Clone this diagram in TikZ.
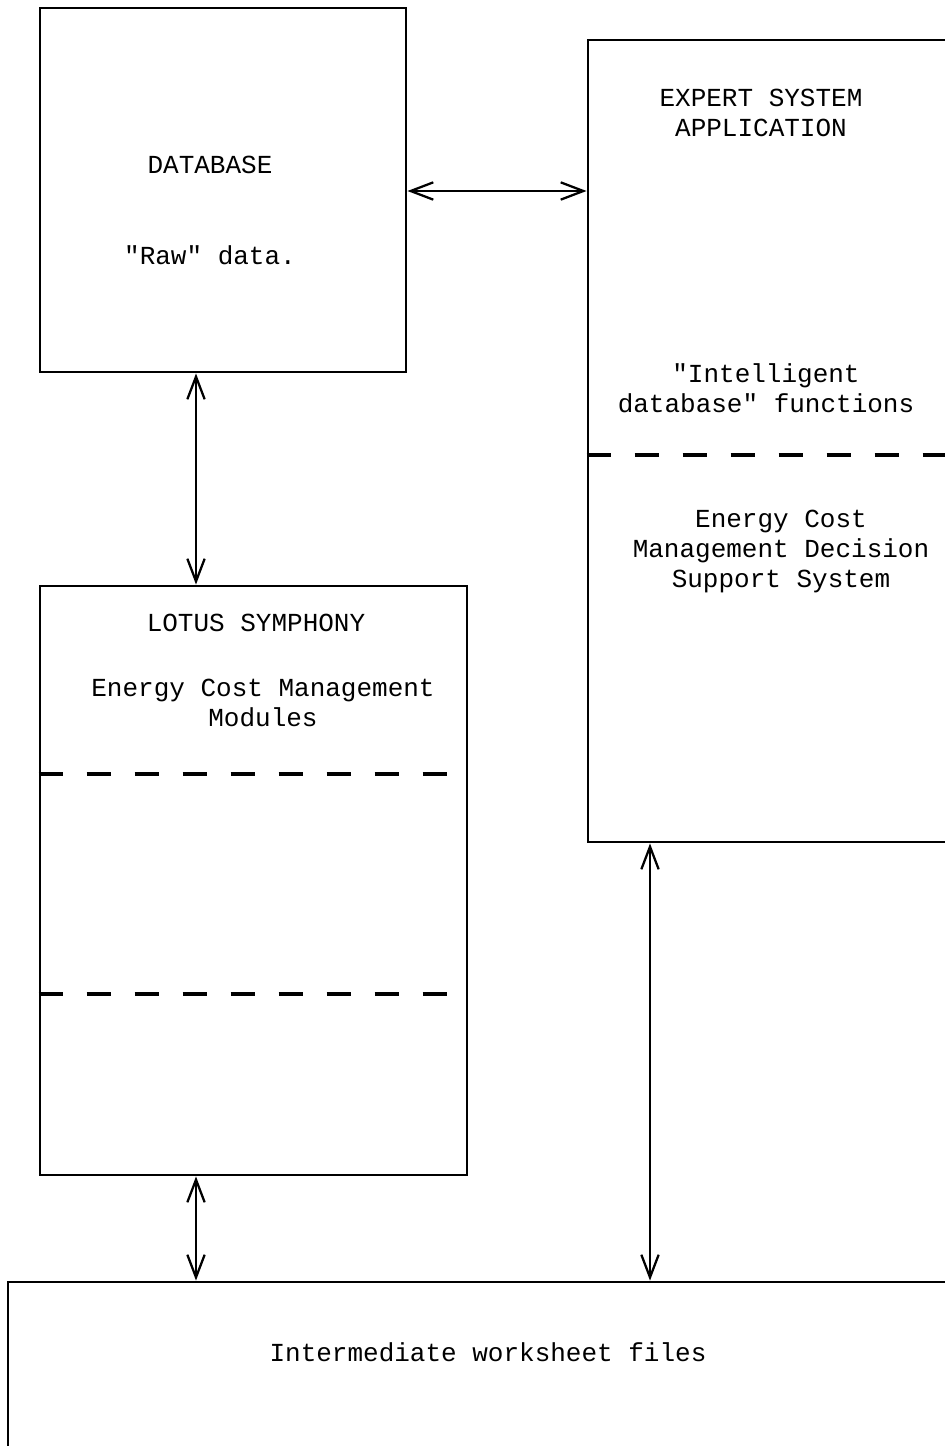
\documentclass[tikz,border=0pt]{standalone}
\usepackage{fontspec}
\setmonofont{Liberation Mono}
\usetikzlibrary{arrows.meta,fit}

\tikzset{
    box/.style={draw, line width=2.2pt, inner sep=0pt},
    txt/.style={font=\ttfamily\fontsize{19.5}{22.5}\selectfont, align=center, inner sep=0pt},
    link/.style={line width=1.7pt, {Straight Barb[length=17pt,width=13pt]}-{Straight Barb[length=17pt,width=13pt]}},
    divider/.style={line width=2.6pt, dash pattern=on 18pt off 18pt},
}

\begin{document}
\begin{tikzpicture}[x=0.75pt, y=-0.75pt]
    \useasboundingbox (0,0) rectangle (945,1446);
    \clip (0,0) rectangle (945,1446);

    \node[box, fit={(40,8) (406,372)}] (database) {};
    \node[box, fit={(588,40) (960,842)}] (expert) {};
    \node[box, fit={(40,586) (467,1175)}] (lotus) {};
    \node[box, fit={(8,1282) (960,1460)}] (worksheets) {};

    \node[txt] (dbtitle) at (210,165) {DATABASE};
    \node[txt] (dbraw) at (210,255) {"Raw" data.};

    \node[txt] (extitle) at (761,113) {EXPERT SYSTEM\\APPLICATION};
    \node[txt] (exintel) at (766,388) {"Intelligent\\database" functions};
    \node[txt] (exdss) at (781,551) {Energy Cost\\Management Decision\\Support System};

    \node[txt] (lotustitle) at (256,623) {LOTUS SYMPHONY};
    \node[txt] (lotusmod) at (263,703) {Energy Cost Management\\Modules};

    \node[txt] (wstext) at (488,1352) {Intermediate worksheet files};

    \coordinate (exdash) at (0,455);
    \coordinate (lodash1) at (450,774);
    \coordinate (lodash2) at (450,994);
    \draw[divider] (expert.west |- exdash) -- (945,455);
    \draw[divider] (lotus.west |- lodash1) -- (lodash1);
    \draw[divider] (lotus.west |- lodash2) -- (lodash2);

    \coordinate (leftcol) at (196,0);
    \coordinate (rightcol) at (650,0);
    \coordinate (midrow) at (0,191);
    \draw[link] (database.east |- midrow) -- (expert.west |- midrow);
    \draw[link] (database.south -| leftcol) -- (lotus.north -| leftcol);
    \draw[link] (lotus.south -| leftcol) -- (worksheets.north -| leftcol);
    \draw[link] (expert.south -| rightcol) -- (worksheets.north -| rightcol);
\end{tikzpicture}
\end{document}
